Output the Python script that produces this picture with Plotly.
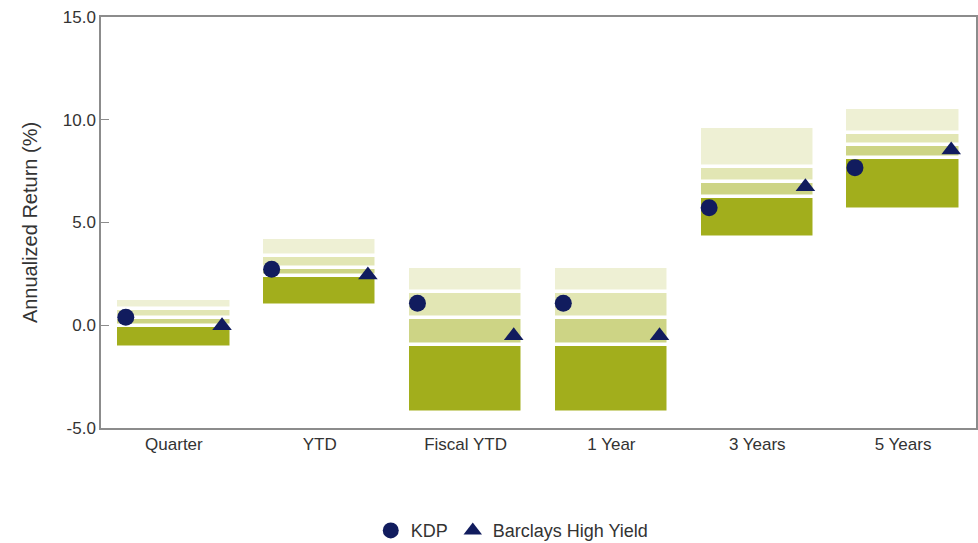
import plotly.graph_objects as go

categories = ["Quarter", "YTD", "Fiscal YTD", "1 Year", "3 Years", "5 Years"]
# percentile boundaries (bottom -> top): 5th, 25th, median, 75th, 95th
p05 = [-1.10, 0.95, -4.28, -4.28, 4.23, 5.61]
p25 = [-0.05, 2.40, -0.97, -0.97, 6.24, 8.16]
p50 = [0.34, 2.77, 0.33, 0.33, 6.97, 8.77]
p75 = [0.79, 3.38, 1.62, 1.62, 7.70, 9.35]
p95 = [1.30, 4.26, 2.85, 2.85, 9.66, 10.59]
kdp = [0.39, 2.72, 1.07, 1.07, 5.72, 7.67]
barclays = [-0.03, 2.45, -0.51, -0.51, 6.74, 8.53]
y_ticks = [-5, 0, 5, 10, 15]
y_tick_labels = ["-5.0", "0.0", "5.0", "10.0", "15.0"]

x_idx = list(range(len(categories)))
band_colors = ["#A2AE1C", "#CDD485", "#E2E6B4", "#EEF0D4"]
bounds = [p05, p25, p50, p75, p95]

fig = go.Figure()
for k in range(4):
    lo, hi = bounds[k], bounds[k + 1]
    fig.add_trace(go.Bar(
        x=x_idx, y=[h - l for l, h in zip(lo, hi)], base=lo,
        width=0.79, marker=dict(color=band_colors[k], line=dict(color="white", width=3.5)),
        showlegend=False, hoverinfo="skip"))

fig.add_trace(go.Scatter(
    x=[i - 0.33 for i in x_idx], y=kdp, mode="markers", name="KDP",
    marker=dict(symbol="circle", size=17, color="#111C5E")))
fig.add_trace(go.Scatter(
    x=[i + 0.33 for i in x_idx], y=barclays, mode="markers", name="Barclays High Yield",
    marker=dict(symbol="triangle-up", size=17, color="#111C5E")))

font_family = "Liberation Sans, Arial, sans-serif"
fig.update_layout(
    width=978, height=543,
    margin=dict(l=101, r=2, t=17, b=115, autoexpand=False),
    plot_bgcolor="white", paper_bgcolor="white",
    barmode="overlay", bargap=0,
    font=dict(family=font_family, size=17, color="#333333"),
    xaxis=dict(range=[-0.5, 5.5], tickvals=x_idx, ticktext=categories, automargin=False,
               showgrid=False, zeroline=False, showline=True, linecolor="#8c8c8c",
               linewidth=1.5, mirror=True, ticks="", tickfont=dict(size=17, color="#333333")),
    yaxis=dict(range=[-5, 15], tickvals=y_ticks, ticktext=y_tick_labels, automargin=False,
               showgrid=False, zeroline=False, showline=True, linecolor="#8c8c8c",
               linewidth=1.5, mirror=True, ticks="inside", ticklen=8, tickcolor="#8c8c8c",
               tickfont=dict(size=17, color="#333333"),
               title=dict(text="Annualized Return (%)", font=dict(size=20, color="#333333"), standoff=20)),
    legend=dict(orientation="h", x=0.47, xanchor="center", y=-0.25, yanchor="middle",
                font=dict(size=18, color="#333333"), itemwidth=30),
)

fig.write_html("out.html", config={"responsive": False, "displayModeBar": False},
               post_script="document.body.style.margin='0px';document.body.style.overflow='hidden';")
